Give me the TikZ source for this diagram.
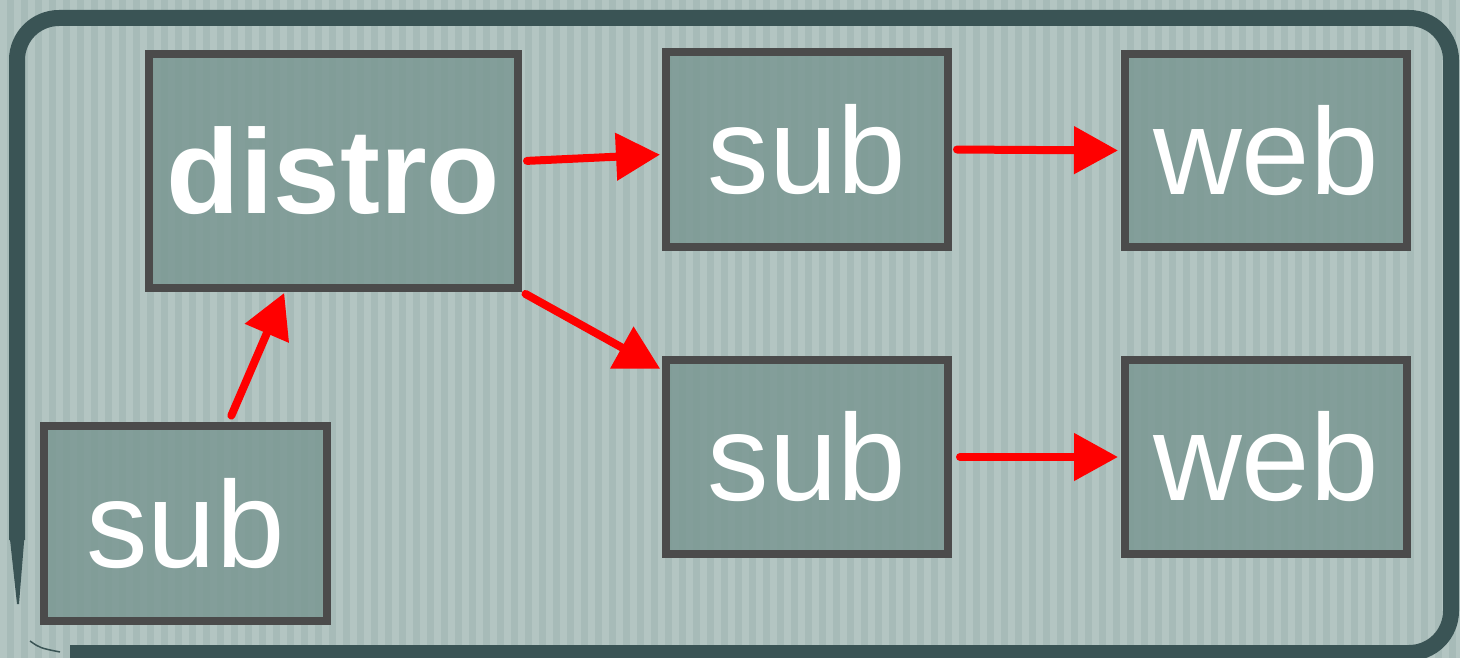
\documentclass[tikz,border=0pt]{standalone}
\usepackage{fontspec}
\setmainfont{Liberation Sans}
\usetikzlibrary{arrows.meta,calc}
\definecolor{bgc}{HTML}{A7BBB8}
\definecolor{stripec}{HTML}{B3C5C2}
\definecolor{framec}{HTML}{3A5455}
\definecolor{boxc}{HTML}{7B9893}
\definecolor{boxline}{HTML}{4B4B4B}
\begin{document}
\begin{tikzpicture}[x=1pt,y=-1pt,
  box/.style={draw=boxline, line width=8pt, fill=boxc, fill opacity=0.85, text opacity=1,
    text=white, inner sep=0pt, minimum width=282pt, minimum height=195pt,
    font=\fontsize{123}{130}\selectfont},
  flow/.style={draw=red, line width=8pt, line cap=round,
    -{Triangle[length=44pt,width=46pt]}}]
\useasboundingbox (0,0) rectangle (1460,658);
\fill[bgc] (0,0) rectangle (1460,658);
\foreach \x in {0,14,...,1460} \fill[stripec] (\x,0) rectangle ++(7,658);
% frame
\draw[framec, line width=16pt, rounded corners=42pt]
  (17,540) -- (17,18) -- (1451,18) -- (1451,653) -- (70,653);
\fill[framec] (9,530) -- (25,530) -- (19,604) -- (17,604) -- cycle;
\draw[framec, line width=1.5pt] (30,641) .. controls (40,648) .. (60,652);
% boxes
\node[box, minimum width=369pt, minimum height=234pt, font=\fontsize{120}{130}\selectfont\bfseries] (distro) at (333.5,171) {distro};
\node[box] (subA) at (807,149.5) {sub};
\node[box, minimum height=193pt] (webA) at (1266,150.5) {web};
\node[box, minimum height=194pt] (subB) at (807,457) {sub};
\node[box, minimum height=194pt] (webB) at (1266,457) {web};
\node[box, minimum width=283pt] (subC) at (185.5,523.5) {sub};
% arrows
\draw[flow, shorten <=5pt, shorten >=2pt] (distro.3) -- (subA.182);
\draw[flow, shorten <=5pt, shorten >=3pt] (subA.east) -- (webA.west);
\draw[flow, shorten <=4pt, shorten >=2pt] (distro.south east) -- (subB.149);
\draw[flow, shorten <=8pt, shorten >=3pt] (subB.east) -- (webB.west);
\draw[flow, shorten <=7pt, shorten >=1pt] (subC.67.7) -- (distro.248.6);
\end{tikzpicture}
\end{document}
